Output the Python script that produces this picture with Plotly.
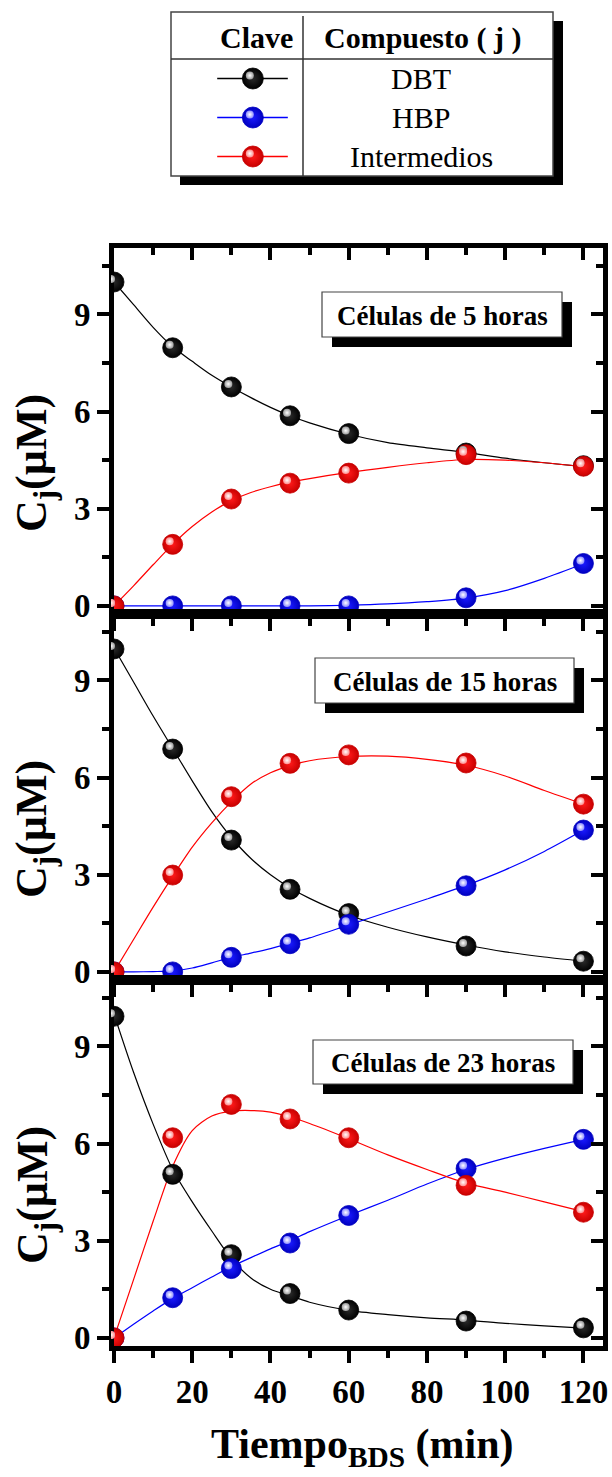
import plotly.graph_objects as go

# ---------------- data ----------------
t_min = [0, 15, 30, 45, 60, 90, 120]

dbt_5h = [10.0, 7.97, 6.76, 5.87, 5.32, 4.72, 4.33]
hbp_5h = [0.0, 0.0, 0.0, 0.0, 0.0, 0.25, 1.31]
int_5h = [0.0, 1.9, 3.3, 3.79, 4.1, 4.67, 4.31]

dbt_15h = [9.97, 6.88, 4.07, 2.55, 1.8, 0.8, 0.33]
hbp_15h = [0.0, 0.0, 0.45, 0.87, 1.47, 2.66, 4.38]
int_15h = [0.0, 2.99, 5.41, 6.44, 6.7, 6.45, 5.18]

dbt_23h = [9.93, 5.05, 2.57, 1.37, 0.86, 0.52, 0.31]
hbp_23h = [0.0, 1.24, 2.14, 2.93, 3.78, 5.23, 6.13]
int_23h = [0.0, 6.18, 7.21, 6.76, 6.18, 4.71, 3.88]

# fitted model curves
t_fit = [0, 5, 10, 15, 20, 25, 30, 35, 40, 45, 50, 60, 70, 80, 90, 100, 110, 120]

dbt_5h_fit = [10.0, 9.3, 8.6, 8.0, 7.55, 7.12, 6.76, 6.43, 6.13, 5.87, 5.65, 5.3, 5.04, 4.88, 4.74, 4.56, 4.42, 4.3]
hbp_5h_fit = [0.0, 0.0, 0.0, 0.0, 0.0, 0.0, 0.0, 0.0, 0.0, 0.0, 0.0, 0.02, 0.06, 0.13, 0.24, 0.47, 0.85, 1.3]
int_5h_fit = [0.0, 0.62, 1.27, 1.9, 2.45, 2.9, 3.25, 3.5, 3.68, 3.82, 3.93, 4.12, 4.28, 4.42, 4.52, 4.5, 4.42, 4.3]

dbt_15h_fit = [10.0, 8.95, 7.9, 6.9, 5.9, 4.95, 4.15, 3.5, 3.0, 2.6, 2.27, 1.75, 1.38, 1.08, 0.83, 0.62, 0.46, 0.33]
hbp_15h_fit = [0.0, 0.0, 0.01, 0.03, 0.12, 0.28, 0.45, 0.58, 0.72, 0.88, 1.05, 1.45, 1.85, 2.25, 2.67, 3.15, 3.72, 4.38]
int_15h_fit = [0.0, 1.0, 2.0, 2.95, 3.85, 4.6, 5.25, 5.8, 6.15, 6.37, 6.52, 6.65, 6.66, 6.56, 6.38, 6.05, 5.6, 5.18]

dbt_23h_fit = [10.0, 8.2, 6.6, 5.2, 4.2, 3.3, 2.45, 1.85, 1.5, 1.3, 1.1, 0.85, 0.72, 0.62, 0.55, 0.45, 0.37, 0.3]
hbp_23h_fit = [0.0, 0.42, 0.83, 1.22, 1.55, 1.88, 2.2, 2.48, 2.75, 3.0, 3.28, 3.78, 4.25, 4.75, 5.2, 5.55, 5.85, 6.13]
int_23h_fit = [0.0, 1.8, 3.6, 5.3, 6.4, 6.85, 7.0, 7.02, 6.97, 6.82, 6.62, 6.15, 5.65, 5.2, 4.78, 4.5, 4.2, 3.9]

panel_labels = ["Células de 5 horas", "Células de 15 horas", "Células de 23 horas"]
series_names = ["DBT", "HBP", "Intermedios"]
x_ticks = [0, 20, 40, 60, 80, 100, 120]
y_ticks = [0, 3, 6, 9]

panels = [
    (dbt_5h, hbp_5h, int_5h, dbt_5h_fit, hbp_5h_fit, int_5h_fit),
    (dbt_15h, hbp_15h, int_15h, dbt_15h_fit, hbp_15h_fit, int_15h_fit),
    (dbt_23h, hbp_23h, int_23h, dbt_23h_fit, hbp_23h_fit, int_23h_fit),
]

# ---------------- styling ----------------
W, H = 612, 1477
X0, X1 = 114, 603
TOPS = [248, 614, 980]
PH = 366
XR = [0, 125]
YR = [-0.25, 11.05]
SERIF = "'Liberation Serif', 'Times New Roman', Times, serif"
HL_SHIFT = 3  # px offset of the specular highlight (up-left)

# (line colour, sphere edge, sphere centre, highlight rim)
STYLE = [
    ("#000000", "#000000", "#2a2a2a", "#9a9a9a"),
    ("#0000ff", "#0000c0", "#1a1aff", "#8c8cff"),
    ("#ff0000", "#c80000", "#ff1a1a", "#ff8c8c"),
]
MS = 20


def fx(p):
    return p / W


def fy(p):
    return 1 - p / H


def akey(ax, n):
    return f"{ax}axis" if n == 1 else f"{ax}axis{n}"


def aref(ax, n):
    return ax if n == 1 else f"{ax}{n}"


fig = go.Figure()
layout_axes = {}


def base_marker(i):
    return dict(size=MS, color=STYLE[i][1],
                gradient=dict(type="radial", color=STYLE[i][2]),
                line=dict(width=0.8, color="#000000" if i == 0 else STYLE[i][1]))


def hl_marker(i):
    return dict(size=8, color=STYLE[i][3],
                gradient=dict(type="radial", color="#ffffff"),
                line=dict(width=0))


tick_font = dict(family=SERIF, size=33, color="black", weight="bold")

for k, (dbt, hbp, inter, dbt_f, hbp_f, inter_f) in enumerate(panels):
    nb, no, nh = 3 * k + 1, 3 * k + 2, 3 * k + 3
    top = TOPS[k]
    ydom = [fy(top + PH), fy(top)]
    xdom = [fx(X0), fx(X1)]

    common = dict(showgrid=False, zeroline=False, tickcolor="black", tickwidth=4, automargin=False)
    layout_axes[akey("x", nb)] = dict(
        common, domain=xdom, range=XR, anchor=aref("y", nb),
        showline=True, linewidth=5, linecolor="black", mirror=True,
        ticks="outside", ticklen=12, tickmode="array", tickvals=x_ticks,
        minor=dict(ticks="outside", ticklen=7, tickwidth=4, tickcolor="black", dtick=10, tick0=0),
        showticklabels=(k == 2), tickfont=tick_font,
    )
    layout_axes[akey("y", nb)] = dict(
        common, domain=ydom, range=YR, anchor=aref("x", nb),
        showline=True, linewidth=5, linecolor="black", mirror=True,
        ticks="outside", ticklen=12, tickmode="array", tickvals=y_ticks,
        minor=dict(ticks="outside", ticklen=7, tickwidth=4, tickcolor="black", dtick=1.5, tick0=0),
        tickfont=tick_font,
    )
    # mirrored axes carrying the inward ticks on top and right
    layout_axes[akey("x", no)] = dict(
        common, range=XR, overlaying=aref("x", nb), side="top", anchor=aref("y", nb),
        showline=False, ticks="inside", ticklen=12, tickmode="array", tickvals=x_ticks,
        minor=dict(ticks="inside", ticklen=7, tickwidth=4, tickcolor="black", dtick=10, tick0=0),
        showticklabels=False,
    )
    layout_axes[akey("y", no)] = dict(
        common, range=YR, overlaying=aref("y", nb), side="right", anchor=aref("x", nb),
        showline=False, ticks="inside", ticklen=12, tickmode="array", tickvals=y_ticks,
        minor=dict(ticks="inside", ticklen=7, tickwidth=4, tickcolor="black", dtick=1.5, tick0=0),
        showticklabels=False,
    )
    # highlight layer, nudged up-left for the sphere shine
    layout_axes[akey("x", nh)] = dict(
        domain=[fx(X0 - HL_SHIFT), fx(X1 - HL_SHIFT)], range=XR,
        anchor=aref("y", nh), visible=False)
    layout_axes[akey("y", nh)] = dict(
        domain=[fy(top + PH - HL_SHIFT), fy(top - HL_SHIFT)], range=YR,
        anchor=aref("x", nh), visible=False)

    xb, yb = aref("x", nb), aref("y", nb)
    fig.add_trace(go.Scatter(x=[None], y=[None], xaxis=aref("x", no), yaxis=aref("y", no),
                             showlegend=False, hoverinfo="skip"))

    fits = [dbt_f, hbp_f, inter_f]
    pts = [dbt, hbp, inter]
    for i in range(3):
        fig.add_trace(go.Scatter(x=t_fit, y=fits[i], xaxis=xb, yaxis=yb, mode="lines",
                                 line=dict(color=STYLE[i][0], width=1.2, shape="spline", smoothing=0.8),
                                 showlegend=False, hoverinfo="skip"))
    for i in range(3):
        fig.add_trace(go.Scatter(x=t_min, y=pts[i], xaxis=xb, yaxis=yb, mode="markers",
                                 marker=base_marker(i), name=series_names[i], showlegend=False))
    for i in range(3):
        fig.add_trace(go.Scatter(x=t_min, y=pts[i], xaxis=aref("x", nh), yaxis=aref("y", nh),
                                 mode="markers", marker=hl_marker(i),
                                 showlegend=False, hoverinfo="skip"))

# ---------------- key table ----------------
TB_L, TB_R, TB_T, TB_B = 171, 553, 12, 176
TB_HDR, TB_DIV = 59, 303
nL, nLh = 10, 11
layout_axes[akey("x", nL)] = dict(domain=[fx(TB_L), fx(TB_DIV)], range=[0, 1],
                                   anchor=aref("y", nL), visible=False)
layout_axes[akey("y", nL)] = dict(domain=[fy(TB_B), fy(TB_HDR)], range=[3, 0],
                                   anchor=aref("x", nL), visible=False)
layout_axes[akey("x", nLh)] = dict(domain=[fx(TB_L - HL_SHIFT), fx(TB_DIV - HL_SHIFT)], range=[0, 1],
                                    anchor=aref("y", nLh), visible=False)
layout_axes[akey("y", nLh)] = dict(domain=[fy(TB_B - HL_SHIFT), fy(TB_HDR - HL_SHIFT)], range=[3, 0],
                                    anchor=aref("x", nLh), visible=False)
for i in range(3):
    row = i + 0.5
    fig.add_trace(go.Scatter(x=[0.35, 0.885], y=[row, row], xaxis=aref("x", nL), yaxis=aref("y", nL),
                             mode="lines", line=dict(color=STYLE[i][0], width=1.5),
                             showlegend=False, hoverinfo="skip", cliponaxis=False))
    fig.add_trace(go.Scatter(x=[0.62], y=[row], xaxis=aref("x", nL), yaxis=aref("y", nL),
                             mode="markers", marker=dict(base_marker(i), size=21),
                             showlegend=False, hoverinfo="skip", cliponaxis=False))
    fig.add_trace(go.Scatter(x=[0.62], y=[row], xaxis=aref("x", nLh), yaxis=aref("y", nLh),
                             mode="markers", marker=hl_marker(i),
                             showlegend=False, hoverinfo="skip", cliponaxis=False))

shapes = []
annotations = []


def rect(x0, y0, x1, y1, fill, line_w=0, line_c="black"):
    shapes.append(dict(type="rect", xref="paper", yref="paper",
                       x0=fx(x0), x1=fx(x1), y0=fy(y1), y1=fy(y0),
                       fillcolor=fill, line=dict(width=line_w, color=line_c), layer="below"))


def seg(x0, y0, x1, y1, w=1.5, c="#333333"):
    shapes.append(dict(type="line", xref="paper", yref="paper",
                       x0=fx(x0), x1=fx(x1), y0=fy(y0), y1=fy(y1),
                       line=dict(width=w, color=c), layer="below"))


def text(x, y, s, size, bold=False, xanchor="center", angle=0):
    annotations.append(dict(x=fx(x), y=fy(y), xref="paper", yref="paper", text=s,
                            showarrow=False, xanchor=xanchor, yanchor="middle", textangle=angle,
                            font=dict(family=SERIF, size=size, color="black",
                                      weight="bold" if bold else "normal")))


rect(TB_L + 9, TB_T + 9, TB_R + 10, TB_B + 9, "black")
rect(TB_L, TB_T, TB_R, TB_B, "white", 1.5, "#444444")
seg(TB_L, TB_HDR, TB_R, TB_HDR)
seg(TB_DIV, TB_T + 4, TB_DIV, TB_B)
text(295, 38, "Clave", 30, bold=True, xanchor="right")
text(422, 38, "Compuesto ( j )", 30, bold=True)
for i, name in enumerate(series_names):
    text(421, 78 + 39 * i, name, 30)

# panel captions
box_px = [(322, 292, 562, 337), (315, 658, 574, 703), (313, 1040, 573, 1084)]
for (bx0, by0, bx1, by1), lab in zip(box_px, panel_labels):
    rect(bx0 + 10, by0 + 10, bx1 + 10, by1 + 10, "black")
    rect(bx0, by0, bx1, by1, "white", 1.2, "#444444")
    text((bx0 + bx1) / 2, (by0 + by1) / 2 + 1, lab, 27, bold=True)

# axis titles
for top in TOPS:
    text(35, top + PH / 2 + 32, "C<sub>j</sub>(µM)", 44, bold=True, angle=-90)
text(362, 1447, "Tiempo<sub>BDS</sub> (min)", 42, bold=True)

fig.update_layout(
    width=W, height=H, margin=dict(l=0, r=0, t=0, b=0),
    paper_bgcolor="white", plot_bgcolor="rgba(0,0,0,0)",
    showlegend=False, shapes=shapes, annotations=annotations,
    **layout_axes,
)

fig.write_html("out.html")
